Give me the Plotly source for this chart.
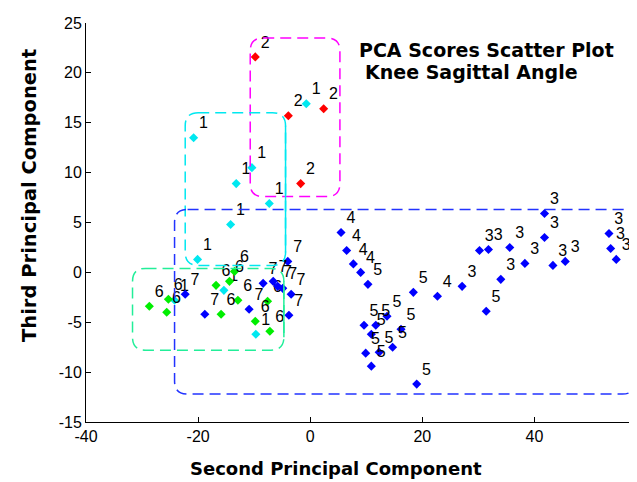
import plotly.graph_objects as go

# PCA scores (second vs third principal component), grouped by subject
g1_x = [-20.8, -10.4, -13.2, -7.3, -14.2, -20.1, -0.7, -24.2, -15.4, -9.7]
g1_y = [13.5, 10.5, 8.9, 6.9, 4.8, 1.3, 16.9, -2.8, -1.8, -6.2]

g2_x = [-9.8, -3.9, 2.4, -1.7]
g2_y = [21.6, 15.7, 16.4, 8.9]

g3_x = [27.1, 30.2, 31.8, 35.6, 34.0, 38.3, 41.8, 41.8, 43.3, 45.5, 53.3, 53.6, 54.6]
g3_y = [-1.4, 2.2, 2.3, 2.5, -0.7, 0.9, 3.5, 5.9, 0.7, 1.1, 3.9, 2.4, 1.3]

g4_x = [5.5, 6.5, 7.7, 9.0, 22.7]
g4_y = [4.0, 2.2, 0.85, 0.0, -2.4]

g5_x = [10.3, 18.4, 31.4, 9.6, 11.7, 13.7, 16.2, 10.9, 14.7, 9.9, 12.3, 10.9, 19.0]
g5_y = [-1.2, -2.0, -3.9, -5.3, -5.3, -4.4, -5.7, -6.2, -7.5, -8.1, -8.0, -9.4, -11.2]

g6_x = [-28.7, -25.6, -25.3, -16.8, -15.9, -13.5, -12.9, -9.8, -7.6, -7.2, -14.4]
g6_y = [-3.4, -4.0, -2.7, -1.3, -4.2, 0.1, -2.8, -4.9, -2.9, -5.9, -0.9]

g7_x = [-22.3, -18.8, -10.9, -8.4, -6.6, -5.8, -4.9, -3.4, -4.0, -3.8]
g7_y = [-2.2, -4.2, -3.7, -1.1, -0.9, -1.4, -1.6, -2.2, 1.1, -4.3]

groups = [
    ("1", g1_x, g1_y, "#00e8f0"),
    ("2", g2_x, g2_y, "#ff0000"),
    ("3", g3_x, g3_y, "#0000ff"),
    ("4", g4_x, g4_y, "#0000ff"),
    ("5", g5_x, g5_y, "#0000ff"),
    ("6", g6_x, g6_y, "#00ee00"),
    ("7", g7_x, g7_y, "#0000ff"),
]

x_ticks = [-40, -20, 0, 20, 40]
y_ticks = [-15, -10, -5, 0, 5, 10, 15, 20, 25]

# cluster outlines: (x0, x1, y0, y1, colour)
boxes = [
    (-10.7, 5.3, 7.6, 23.5, "#ff00ff"),
    (-22.3, -4.4, 0.7, 16.0, "#00e8f0"),
    (-31.7, -4.7, -7.8, 0.4, "#22ee99"),
    (-24.2, 58.0, -12.2, 6.3, "#2233ff"),
]

# the page body adds an 8px margin, so the figure is shrunk/shifted by that
OFF = 8
W, H = 637 - OFF, 482 - OFF
ML, MR, MT, MB = 86 - OFF, 0, 23 - OFF, 60
x_range = [-40, 58.3]
y_range = [-15, 25]

ux = (W - ML - MR) / (x_range[1] - x_range[0])  # px per x unit
uy = (H - MT - MB) / (y_range[1] - y_range[0])  # px per y unit


def rounded_box(x0, x1, y0, y1, r=13):
    rx, ry = r / ux, r / uy
    return (f"M {x0 + rx},{y1} L {x1 - rx},{y1} Q {x1},{y1} {x1},{y1 - ry} "
            f"L {x1},{y0 + ry} Q {x1},{y0} {x1 - rx},{y0} "
            f"L {x0 + rx},{y0} Q {x0},{y0} {x0},{y0 + ry} "
            f"L {x0},{y1 - ry} Q {x0},{y1} {x0 + rx},{y1} Z")


fig = go.Figure()

for label, xs, ys, col in groups:
    fig.add_trace(go.Scatter(
        x=xs, y=ys,
        mode='markers+text',
        marker=dict(symbol='diamond', size=7, color=col),
        text=[label] * len(xs),
        textposition='top right',
        textfont=dict(family='Arial', size=16, color='black'),
        showlegend=False
    ))

for x0, x1, y0, y1, col in boxes:
    fig.add_shape(type='path', path=rounded_box(x0, x1, y0, y1),
                  line=dict(color=col, width=1.5, dash='11px,6px'), layer='above')

# right edges of the cyan and green outlines are drawn solid
for x0, x1, y0, y1, col in boxes[1:3]:
    fig.add_shape(type='line', x0=x1, x1=x1, y0=y0 + 13 / uy, y1=y1 - 13 / uy,
                  line=dict(color=col, width=1.5))


def px_x(p):
    return (p - OFF - ML) / (W - ML - MR)


def px_y(p):
    return 1 - (p - OFF - MT) / (H - MT - MB)


def bold_font(size):
    return dict(family='DejaVu Sans', size=size, color='black')


fig.add_annotation(text="<b>PCA Scores Scatter Plot</b>", xref='paper', yref='paper',
                   x=px_x(357), y=px_y(50), xanchor='left', yanchor='middle',
                   showarrow=False, font=bold_font(19))
fig.add_annotation(text="<b>Knee Sagittal Angle</b>", xref='paper', yref='paper',
                   x=px_x(363), y=px_y(72), xanchor='left', yanchor='middle',
                   showarrow=False, font=bold_font(19))
fig.add_annotation(text="<b>Second Principal Component</b>", xref='paper', yref='paper',
                   x=px_x(336), y=px_y(468), xanchor='center', yanchor='middle',
                   showarrow=False, font=bold_font(18))
fig.add_annotation(text="<b>Third Principal Component</b>", xref='paper', yref='paper',
                   x=px_x(30), y=px_y(196), xanchor='center', yanchor='middle',
                   textangle=-90, showarrow=False, font=bold_font(19.5))

axis_common = dict(
    showline=True, linecolor='black', linewidth=1,
    ticks='inside', ticklen=5, tickcolor='black',
    showgrid=False, zeroline=False, automargin=False,
    tickfont=dict(family='Arial', size=16, color='black'),
)

fig.update_layout(
    width=W, height=H,
    margin=dict(l=ML, r=MR, t=MT, b=MB, autoexpand=False),
    plot_bgcolor='white', paper_bgcolor='white',
    xaxis=dict(range=x_range, tickvals=x_ticks,
               ticktext=[str(t) for t in x_ticks], **axis_common),
    yaxis=dict(range=y_range, tickvals=y_ticks,
               ticktext=[str(t) for t in y_ticks], **axis_common),
)

fig.write_html("out.html")
